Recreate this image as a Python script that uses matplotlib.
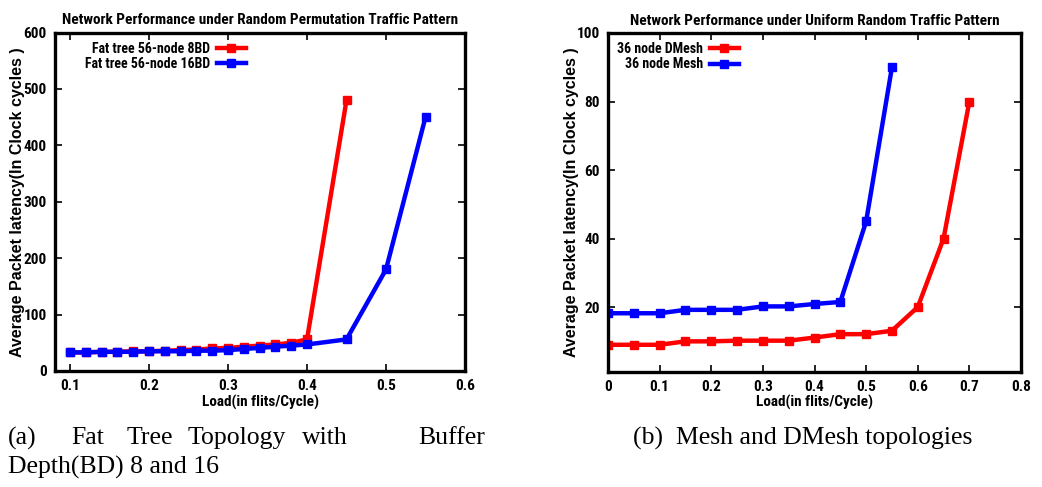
import matplotlib
matplotlib.use("Agg")
import matplotlib.pyplot as plt

SANS = ['Liberation Sans Narrow', 'Roboto Condensed', 'Arial Narrow',
        'Liberation Sans', 'DejaVu Sans']
WIDE = ['Liberation Sans', 'DejaVu Sans']
plt.rcParams['font.family'] = SANS
plt.rcParams['font.weight'] = 'bold'

# ---- data: (a) Fat tree, random permutation traffic ----
load_a_8bd = [0.10, 0.12, 0.14, 0.16, 0.18, 0.20, 0.22, 0.24, 0.26, 0.28,
              0.30, 0.32, 0.34, 0.36, 0.38, 0.40, 0.45]
lat_a_8bd = [33, 33, 34, 34, 35, 35, 36, 37, 38, 40,
             41, 43, 45, 47, 50, 56, 480]
load_a_16bd = [0.10, 0.12, 0.14, 0.16, 0.18, 0.20, 0.22, 0.24, 0.26, 0.28,
               0.30, 0.32, 0.34, 0.36, 0.38, 0.40, 0.45, 0.50, 0.55]
lat_a_16bd = [33, 33, 34, 34, 34, 35, 35, 35, 36, 36,
              37, 39, 41, 43, 45, 47, 56, 180, 450]

# ---- data: (b) Mesh / DMesh, uniform random traffic ----
load_b_dmesh = [0.0, 0.05, 0.10, 0.15, 0.20, 0.25, 0.30, 0.35, 0.40, 0.45,
                0.50, 0.55, 0.60, 0.65, 0.70]
lat_b_dmesh = [9, 9, 9, 10, 10, 10.2, 10.2, 10.2, 11.1, 12.1,
               12.1, 13.1, 20, 40, 80]
load_b_mesh = [0.0, 0.05, 0.10, 0.15, 0.20, 0.25, 0.30, 0.35, 0.40, 0.45,
               0.50, 0.55]
lat_b_mesh = [18.2, 18.2, 18.2, 19.2, 19.2, 19.2, 20.2, 20.2, 20.9, 21.5,
              45, 90]

titles = ["Network Performance under Random Permutation Traffic Pattern",
          "Network Performance under Uniform Random Traffic Pattern"]
xlabel = "Load(in flits/Cycle)"
ylabel = "Average Packet latency(In Clock cycles )"

fig = plt.figure(figsize=(10.42, 4.87), dpi=100)
W, H = 1042, 487

def axes_px(x0, y0, x1, y1):
    return fig.add_axes([x0 / W, 1 - y1 / H, (x1 - x0) / W, (y1 - y0) / H])

axA = axes_px(55, 32.5, 465, 371)
axB = axes_px(608, 33, 1021, 371.5)

lw, ms = 3.2, 5.5

def style(ax):
    for s in ax.spines.values():
        s.set_linewidth(2.4)
    ax.tick_params(direction='in', length=5, width=1.2, top=True, right=True,
                   labelsize=11, pad=6)
    for t in ax.get_xticklabels() + ax.get_yticklabels():
        t.set_fontweight('bold')

axA.plot(load_a_8bd, lat_a_8bd, color='#ff0000', lw=lw, marker='s', ms=ms,
         label="Fat tree 56-node 8BD")
axA.plot(load_a_16bd, lat_a_16bd, color='#0000ff', lw=lw, marker='s', ms=ms,
         label="Fat tree 56-node 16BD")
axA.set_xlim(0.081, 0.6)
axA.set_ylim(0, 600)
axA.set_xticks([0.1, 0.2, 0.3, 0.4, 0.5, 0.6])
axA.set_xticklabels(["0.1", "0.2", "0.3", "0.4", "0.5", "0.6"])
axA.set_yticks([0, 100, 200, 300, 400, 500, 600])

axB.plot(load_b_dmesh, lat_b_dmesh, color='#ff0000', lw=lw, marker='s', ms=ms,
         label="36 node DMesh")
axB.plot(load_b_mesh, lat_b_mesh, color='#0000ff', lw=lw, marker='s', ms=ms,
         label="36 node Mesh")
axB.set_xlim(0, 0.8)
axB.set_ylim(1.2, 100)
axB.set_xticks([0, 0.1, 0.2, 0.3, 0.4, 0.5, 0.6, 0.7, 0.8])
axB.set_xticklabels(["0", "0.1", "0.2", "0.3", "0.4", "0.5", "0.6", "0.7", "0.8"])
axB.set_yticks([20, 40, 60, 80, 100])

ylab_x = {0: -0.073, 1: -0.070}
for i, (ax, t) in enumerate(zip([axA, axB], titles)):
    style(ax)
    ax.set_title(t, fontsize=11, fontweight='bold', pad=6)
    ax.set_xlabel(xlabel, fontsize=11, fontweight='bold', labelpad=1)
    ax.set_ylabel(ylabel, fontsize=11.5, fontweight='bold', family=WIDE)
    ax.yaxis.set_label_coords(ylab_x[i], 0.5)
    leg = ax.legend(loc='upper left', frameon=False, markerfirst=False,
                    fontsize=10, handlelength=2.1, handletextpad=0.5,
                    labelspacing=0.1, borderaxespad=0.25,
                    bbox_to_anchor=(0.05, 1.0) if ax is axA else (0.0, 1.0))
    for tx in leg.get_texts():
        tx.set_fontweight('bold')

serif = ['Liberation Serif', 'DejaVu Serif']
words = [("(a)", 8), ("Fat", 71), ("Tree", 127), ("Topology", 188),
         ("with", 302), ("Buffer", 418)]
for w, x in words:
    fig.text(x / W, 1 - 438 / H, w, family=serif, fontsize=18.5,
             fontweight='normal', ha='left', va='center')
fig.text(8 / W, 1 - 467 / H, "Depth(BD) 8 and 16", family=serif, fontsize=18.5,
         fontweight='normal', ha='left', va='center')
fig.text(803 / W, 1 - 438 / H, "(b)  Mesh and DMesh topologies", family=serif,
         fontsize=18.5, fontweight='normal', ha='center', va='center')

fig.savefig("out.png", dpi=100)
